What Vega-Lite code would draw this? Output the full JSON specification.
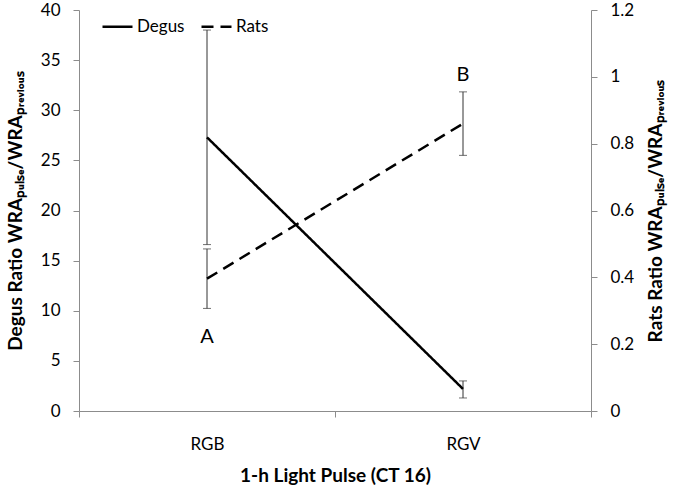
{
  "$schema": "https://vega.github.io/schema/vega-lite/v6.json",
  "width": 512,
  "height": 401,
  "background": "white",
  "padding": {"left": 6, "top": 1, "right": 5, "bottom": 5},
  "config": {
    "view": {"stroke": null},
    "font": "Lato",
    "axis": {
      "grid": false,
      "domainColor": "#8c8c8c",
      "tickColor": "#8c8c8c",
      "labelFont": "Lato",
      "labelFontSize": 17,
      "labelColor": "#000000",
      "titleFont": "Lato",
      "titleFontSize": 19,
      "titleFontWeight": "bold",
      "titleColor": "#000000",
      "tickSize": 6
    }
  },
  "datasets": {
    "degus": [
      {"pulse": "RGB", "species": "Degus", "value": 27.3, "lo": 16.6, "hi": 38.0},
      {"pulse": "RGV", "species": "Degus", "value": 2.2, "lo": 1.3, "hi": 3.0}
    ],
    "rats": [
      {"pulse": "RGB", "species": "Rats", "value": 0.396, "lo": 0.307, "hi": 0.485},
      {"pulse": "RGV", "species": "Rats", "value": 0.86, "lo": 0.765, "hi": 0.955}
    ],
    "letters": [
      {"pulse": "RGB", "label": "A", "value": 0.22},
      {"pulse": "RGV", "label": "B", "value": 1.005}
    ]
  },
  "encoding": {
    "x": {
      "field": "pulse",
      "type": "nominal",
      "scale": {"type": "band", "paddingInner": 0, "paddingOuter": 0, "domain": ["RGB", "RGV"]},
      "axis": {"title": "1-h Light Pulse (CT 16)", "labelAngle": 0, "tickBand": "extent", "labelPadding": 19, "titlePadding": 14}
    }
  },
  "layer": [
    {
      "data": {"name": "degus"},
      "layer": [
        {
          "mark": {"type": "errorbar", "ticks": true, "color": "#333333", "thickness": 1, "size": 8},
          "encoding": {
            "y": {"field": "lo", "type": "quantitative", "scale": {"domain": [0, 40], "nice": false},
              "axis": {"orient": "left", "title": "Degus Ratio WRAₚᵤₗₛₑ/WRAₚᵣₑᵥᵢₒᵤₛ", "values": [0, 5, 10, 15, 20, 25, 30, 35, 40], "labelPadding": 13, "titlePadding": 15}},
            "y2": {"field": "hi"}
          }
        },
        {
          "mark": {"type": "line", "color": "#000000", "strokeWidth": 2.5},
          "encoding": {
            "y": {"field": "value", "type": "quantitative", "scale": {"domain": [0, 40], "nice": false},
              "axis": {"orient": "left", "title": "Degus Ratio WRAₚᵤₗₛₑ/WRAₚᵣₑᵥᵢₒᵤₛ", "values": [0, 5, 10, 15, 20, 25, 30, 35, 40], "labelPadding": 13, "titlePadding": 15}},
            "strokeDash": {
              "field": "species",
              "type": "nominal",
              "scale": {"domain": ["Degus", "Rats"], "range": [[1, 0], [12, 7]]},
              "legend": {"orient": "none", "legendX": 22, "legendY": 0, "direction": "horizontal", "title": null, "symbolType": "stroke", "symbolStrokeWidth": 2.5, "symbolStrokeColor": "#000000", "symbolSize": 900, "labelFont": "Lato", "labelFontSize": 17, "labelColor": "#000000", "columnPadding": 11, "labelOffset": 3}
            }
          }
        }
      ]
    },
    {
      "layer": [
        {
          "data": {"name": "rats"},
          "mark": {"type": "errorbar", "ticks": true, "color": "#333333", "thickness": 1, "size": 8},
          "encoding": {
            "y": {"field": "lo", "type": "quantitative", "scale": {"domain": [0, 1.2], "nice": false},
              "axis": {"orient": "right", "title": "Rats Ratio WRAₚᵤₗₛₑ/WRAₚᵣₑᵥᵢₒᵤₛ", "values": [0, 0.2, 0.4, 0.6, 0.8, 1, 1.2], "format": ".1~f", "labelPadding": 13, "titlePadding": 13, "titleAngle": 270, "titleBaseline": "top"}},
            "y2": {"field": "hi"}
          }
        },
        {
          "data": {"name": "rats"},
          "mark": {"type": "line", "color": "#000000", "strokeWidth": 2.5},
          "encoding": {
            "y": {"field": "value", "type": "quantitative", "scale": {"domain": [0, 1.2], "nice": false},
              "axis": {"orient": "right", "title": "Rats Ratio WRAₚᵤₗₛₑ/WRAₚᵣₑᵥᵢₒᵤₛ", "values": [0, 0.2, 0.4, 0.6, 0.8, 1, 1.2], "format": ".1~f", "labelPadding": 13, "titlePadding": 13, "titleAngle": 270, "titleBaseline": "top"}},
            "strokeDash": {"field": "species", "type": "nominal"}
          }
        },
        {
          "data": {"name": "letters"},
          "mark": {"type": "text", "fontSize": 20, "font": "Lato", "color": "#000000"},
          "encoding": {
            "y": {"field": "value", "type": "quantitative", "scale": {"domain": [0, 1.2], "nice": false},
              "axis": {"orient": "right", "title": "Rats Ratio WRAₚᵤₗₛₑ/WRAₚᵣₑᵥᵢₒᵤₛ", "values": [0, 0.2, 0.4, 0.6, 0.8, 1, 1.2], "format": ".1~f", "labelPadding": 13, "titlePadding": 13, "titleAngle": 270, "titleBaseline": "top"}},
            "text": {"field": "label"}
          }
        }
      ]
    }
  ],
  "resolve": {"scale": {"y": "independent"}}
}
